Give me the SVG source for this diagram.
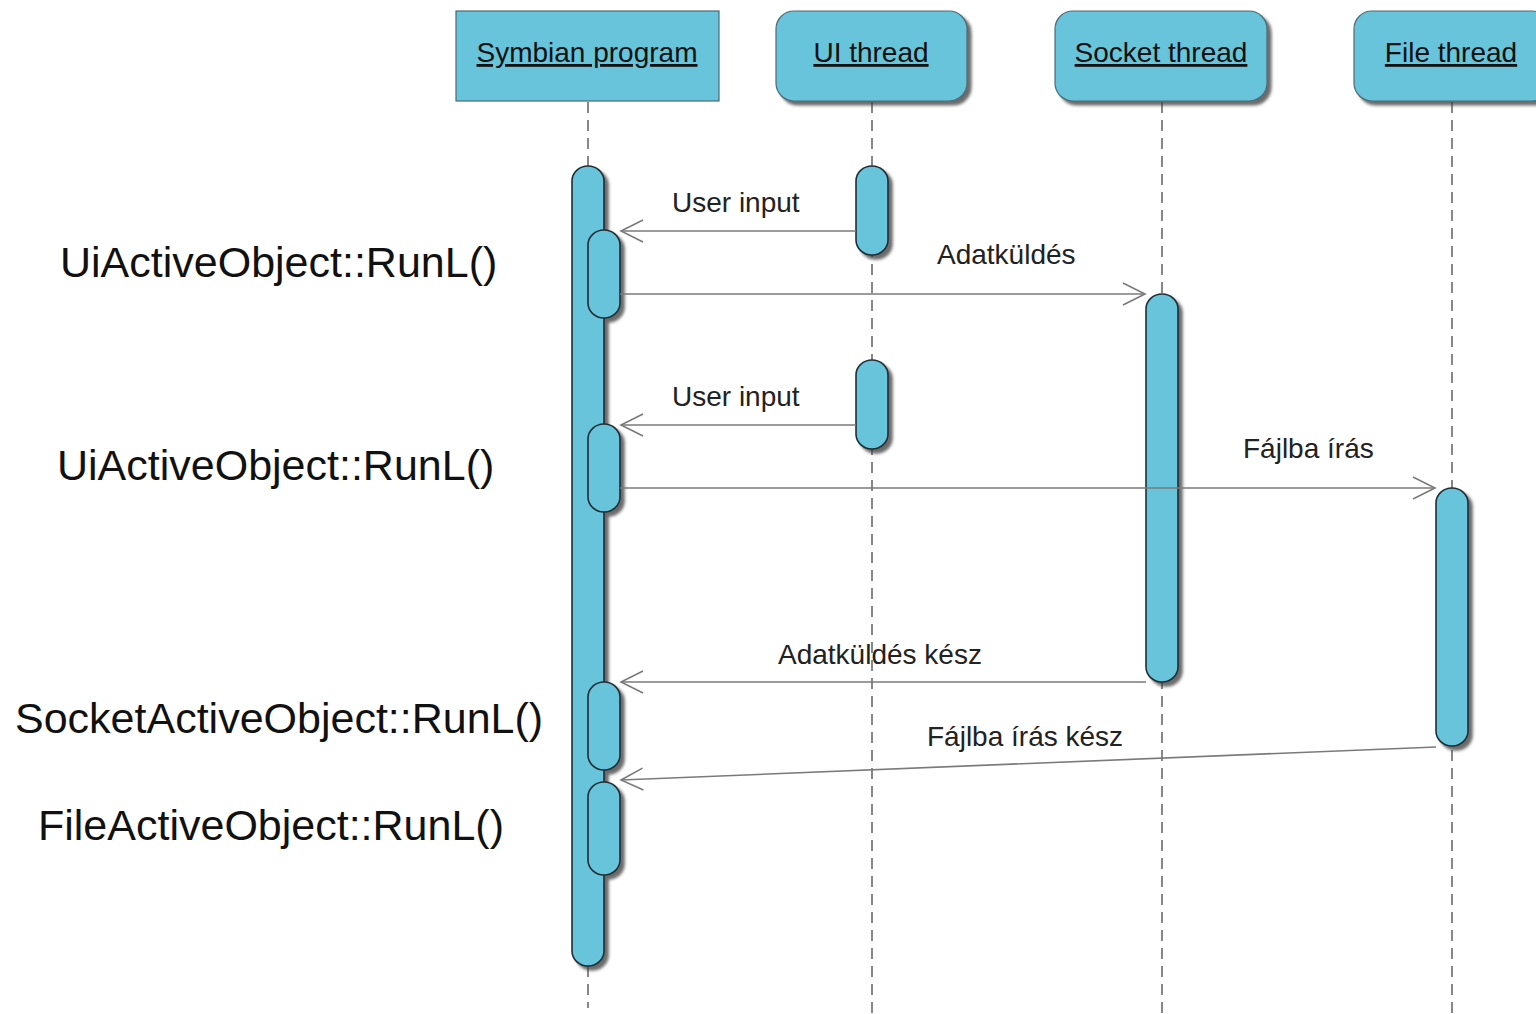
<svg xmlns="http://www.w3.org/2000/svg" width="1536" height="1014" viewBox="0 0 1536 1014">
  <style>
    .head { fill: #67c4da; stroke: #4d6b76; stroke-width: 1.2; }
    .act { fill: #67c4da; stroke: #1f2f35; stroke-width: 1.6; }
    .life { stroke: #6a6a6a; stroke-width: 1.6; stroke-dasharray: 11 7; fill: none; }
    .msg { stroke: #7a7a7a; stroke-width: 1.6; fill: none; marker-end: url(#open); }
    .title { font-family: "Liberation Sans", Arial, sans-serif; font-size: 28px; fill: #111; text-anchor: middle; text-decoration: underline; }
    .label { font-family: "Liberation Sans", Arial, sans-serif; font-size: 28px; fill: #222; }
    .side { font-family: "Liberation Sans", Arial, sans-serif; font-size: 43px; fill: #111; }
  </style>
  <defs>
    <filter id="shadow" x="-30%" y="-10%" width="160%" height="130%">
      <feDropShadow dx="4" dy="4" stdDeviation="1.6" flood-color="#3a3a3a" flood-opacity="0.75"/>
    </filter>
    <marker id="open" markerUnits="userSpaceOnUse" markerWidth="30" markerHeight="30" viewBox="-26 -13 30 26" refX="0" refY="0" orient="auto">
      <path d="M -22 -11 L 0 0 L -22 11" fill="none" stroke="#7a7a7a" stroke-width="1.6"/>
    </marker>
  </defs>

  <rect width="1536" height="1014" fill="#ffffff"/>

  <!-- Symbian program participant -->
  <g id="symbian">
    <line class="life" x1="588" y1="102" x2="588" y2="1008"/>
    <rect class="head" x="456" y="11" width="263" height="90"/>
    <text class="title" x="587" y="62">Symbian program</text>
    <g filter="url(#shadow)">
      <rect class="act" x="572" y="166" width="32" height="800" rx="16" ry="15"/>
      <rect class="act" x="588" y="230" width="32" height="88" rx="16" ry="15"/>
      <rect class="act" x="588" y="424" width="32" height="88" rx="16" ry="15"/>
      <rect class="act" x="588" y="682" width="32" height="88" rx="16" ry="15"/>
      <rect class="act" x="588" y="782" width="32" height="93" rx="16" ry="15"/>
    </g>
  </g>

  <!-- UI thread participant -->
  <g id="ui-thread">
    <line class="life" x1="872" y1="102" x2="872" y2="1014"/>
    <rect class="head" x="776" y="11" width="191" height="90" rx="18" ry="18" filter="url(#shadow)"/>
    <text class="title" x="871" y="62">UI thread</text>
    <g filter="url(#shadow)">
      <rect class="act" x="856" y="166" width="32" height="89" rx="16" ry="15"/>
      <rect class="act" x="856" y="360" width="32" height="89" rx="16" ry="15"/>
    </g>
  </g>

  <!-- Socket thread participant -->
  <g id="socket-thread">
    <line class="life" x1="1162" y1="102" x2="1162" y2="1014"/>
    <rect class="head" x="1055" y="11" width="212" height="90" rx="18" ry="18" filter="url(#shadow)"/>
    <text class="title" x="1161" y="62">Socket thread</text>
    <rect class="act" x="1146" y="294" width="32" height="388" rx="16" ry="15" filter="url(#shadow)"/>
  </g>

  <!-- File thread participant -->
  <g id="file-thread">
    <line class="life" x1="1452" y1="102" x2="1452" y2="1014"/>
    <rect class="head" x="1354" y="11" width="196" height="90" rx="18" ry="18" filter="url(#shadow)"/>
    <text class="title" x="1451" y="62">File thread</text>
    <rect class="act" x="1436" y="488" width="32" height="258" rx="16" ry="15" filter="url(#shadow)"/>
  </g>

  <!-- Messages -->
  <g id="connectors">
    <line class="msg" x1="856" y1="231" x2="621" y2="231"/>
    <line class="msg" x1="620" y1="294" x2="1145" y2="294"/>
    <line class="msg" x1="856" y1="425" x2="621" y2="425"/>
    <line class="msg" x1="620" y1="488" x2="1435" y2="488"/>
    <line class="msg" x1="1146" y1="682" x2="621" y2="682"/>
    <line class="msg" x1="1436" y1="747" x2="621" y2="780"/>
    <text class="label" x="672" y="212">User input</text>
    <text class="label" x="937" y="264">Adatküldés</text>
    <text class="label" x="672" y="406">User input</text>
    <text class="label" x="1243" y="458">Fájlba írás</text>
    <text class="label" x="778" y="664">Adatküldés kész</text>
    <text class="label" x="927" y="746">Fájlba írás kész</text>
  </g>

  <!-- Active object handlers -->
  <g id="handlers">
    <text class="side" x="60" y="277">UiActiveObject::RunL()</text>
    <text class="side" x="57" y="480">UiActiveObject::RunL()</text>
    <text class="side" x="15" y="733">SocketActiveObject::RunL()</text>
    <text class="side" x="38" y="840">FileActiveObject::RunL()</text>
  </g>
</svg>
